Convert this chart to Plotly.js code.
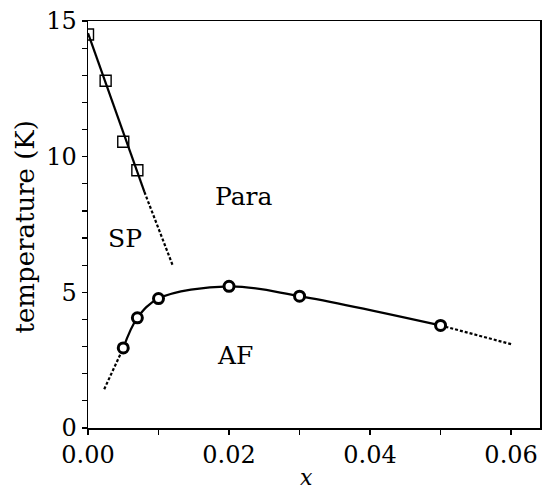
<!DOCTYPE html>
<html>
<head>
<meta charset="utf-8">
<script src="https://cdn.plot.ly/plotly-3.0.1.min.js"></script>
<style>
html,body{margin:0;padding:0;background:#fff;}
#chart{width:544px;height:490px;}
</style>
</head>
<body>
<div id="chart"></div>
<script>
// SP phase boundary (squares)
const spX = [0, 0.0025, 0.005, 0.007];
const spY = [14.5, 12.8, 10.55, 9.5];
const spLineX = [0, 0.008];
const spLineY = [14.55, 8.7];
const spDashX = [0.008, 0.012];
const spDashY = [8.7, 6.0];

// AF phase boundary (circles)
const afX = [0.005, 0.007, 0.01, 0.02, 0.03, 0.05];
const afY = [2.95, 4.06, 4.77, 5.22, 4.86, 3.78];
const afDashLowX = [0.0023, 0.005];
const afDashLowY = [1.43, 2.95];
const afDashHighX = [0.05, 0.06];
const afDashHighY = [3.78, 3.09];

// region labels
const regionText = ["Para", "SP", "AF"];
const regionX = [0.0221, 0.0053, 0.0208];
const regionY = [8.52, 6.97, 2.69];

const xTicks = [0, 0.02, 0.04, 0.06];
const yTicks = [0, 5, 10, 15];

const FONT = "DejaVu Serif";
const dashStyle = "3px,2px";

const traces = [
  {x: spLineX, y: spLineY, mode: "lines", line: {color: "black", width: 2.2}, hoverinfo: "skip"},
  {x: spDashX, y: spDashY, mode: "lines", line: {color: "black", width: 2.2, dash: dashStyle}, hoverinfo: "skip"},
  {x: afDashLowX, y: afDashLowY, mode: "lines", line: {color: "black", width: 2.2, dash: dashStyle}, hoverinfo: "skip"},
  {x: afDashHighX, y: afDashHighY, mode: "lines", line: {color: "black", width: 2.2, dash: dashStyle}, hoverinfo: "skip"},
  {x: afX, y: afY, mode: "lines", line: {color: "black", width: 2.2, shape: "spline", smoothing: 1}, hoverinfo: "skip"},
  {x: spX, y: spY, mode: "markers", marker: {symbol: "square-open", size: 11, color: "black", line: {width: 1.4, color: "black"}}},
  {x: afX, y: afY, mode: "markers", marker: {symbol: "circle", size: 10, color: "white", line: {width: 3, color: "black"}}}
];

const annotations = regionText.map((t, i) => ({
  text: t, x: regionX[i], y: regionY[i], xref: "x", yref: "y",
  showarrow: false, xanchor: "center", yanchor: "middle",
  font: {family: FONT, size: 25, color: "black"}
}));
annotations.push({
  text: "temperature (K)", textangle: -90, xref: "paper", yref: "paper",
  x: 0, y: 0.5, xanchor: "center", yanchor: "middle", xshift: -64, yshift: -3,
  showarrow: false, font: {family: FONT, size: 26, color: "black"}
});
annotations.push({
  text: "<i>x</i>", xref: "paper", yref: "paper",
  x: 0.5, y: 0, xanchor: "center", yanchor: "middle", xshift: -8, yshift: -49,
  showarrow: false, font: {family: FONT, size: 22, color: "black"}
});

const layout = {
  width: 544, height: 490,
  margin: {l: 88, r: 4, t: 21, b: 62},
  paper_bgcolor: "white", plot_bgcolor: "white",
  showlegend: false,
  font: {family: FONT, size: 24, color: "black"},
  xaxis: {
    range: [0, 0.0641], tickvals: xTicks, tickformat: ".2f",
    ticks: "outside", ticklen: 5, tickwidth: 1.2, tickcolor: "black",
    minor: {dtick: 0.01, ticks: "outside", ticklen: 5, tickwidth: 1.2, tickcolor: "black"},
    showline: true, mirror: true, linecolor: "black", linewidth: 1.5,
    showgrid: false, zeroline: false,
    tickfont: {family: FONT, size: 24, color: "black"}
  },
  yaxis: {
    range: [0, 15], tickvals: yTicks,
    ticks: "outside", ticklen: 5, tickwidth: 1.2, tickcolor: "black",
    minor: {dtick: 1, ticks: "outside", ticklen: 5, tickwidth: 1.2, tickcolor: "black"},
    showline: true, mirror: true, linecolor: "black", linewidth: 1.5,
    showgrid: false, zeroline: false,
    tickfont: {family: FONT, size: 24, color: "black"}
  },
  annotations: annotations
};

Plotly.newPlot("chart", traces, layout, {displayModeBar: false, staticPlot: true});
</script>
</body>
</html>
